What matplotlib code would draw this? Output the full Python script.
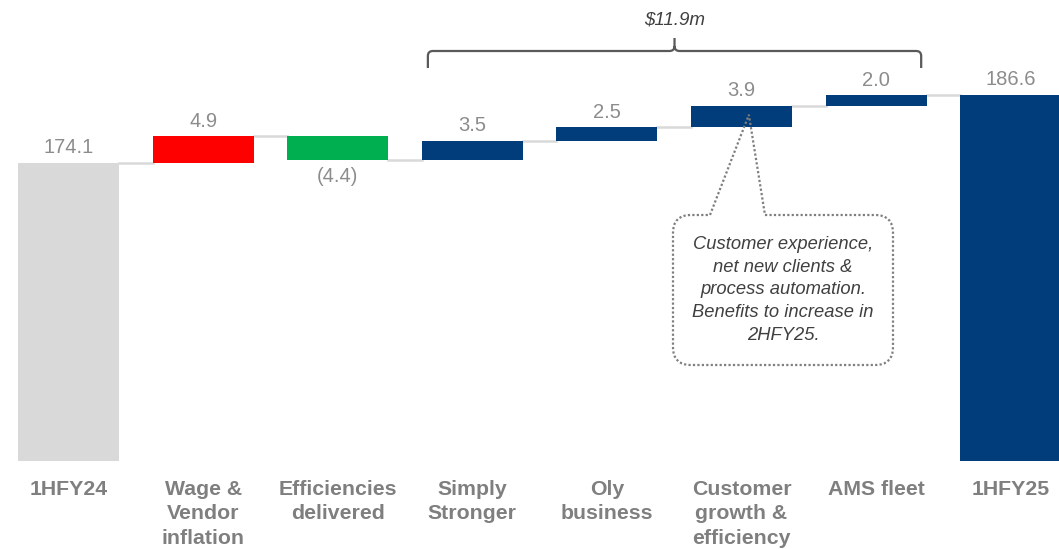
import matplotlib.pyplot as plt
from matplotlib.path import Path
from matplotlib.patches import PathPatch
import numpy as np

plt.rcParams["font.family"] = ["Liberation Sans", "DejaVu Sans"]

# Waterfall data
categories = ["1HFY24", "Wage &\nVendor\ninflation", "Efficiencies\ndelivered",
              "Simply\nStronger", "Oly\nbusiness", "Customer\ngrowth &\nefficiency",
              "AMS fleet", "1HFY25"]
start_total = 174.1
deltas = [4.9, -4.4, 3.5, 2.5, 3.9, 2.0]
end_total = 186.6
delta_colors = ["#ff0000", "#00b050", "#003d7a", "#003d7a", "#003d7a", "#003d7a"]
bracket_label = "$11.9m"
callout_text = ("Customer experience,\nnet new clients &\nprocess automation.\n"
                "Benefits to increase in\n2HFY25.")

W, H = 1059, 549
fig = plt.figure(figsize=(W / 100, H / 100), dpi=100)
ax = fig.add_axes([0, 1 - 460.7 / H, 1, 460.7 / H])
ax.set_xlim(-0.509, 7.359)
ax.set_ylim(119.6, 203.9)
for s in ax.spines.values():
    s.set_visible(False)
ax.set_yticks([])

bw = 0.75
label_grey = "#8c8c8c"
x = np.arange(len(categories))

# totals
ax.bar(x[0], start_total, width=bw, color="#d9d9d9", zorder=2)
ax.bar(x[-1], end_total, width=bw, color="#003d7a", zorder=2)
ax.annotate(f"{start_total:.1f}", (x[0], start_total), xytext=(0, 4),
            textcoords="offset points", ha="center", va="bottom",
            fontsize=14.5, color=label_grey)
ax.annotate(f"{end_total:.1f}", (x[-1], end_total), xytext=(0, 4),
            textcoords="offset points", ha="center", va="bottom",
            fontsize=14.5, color=label_grey)

running = start_total
levels = [start_total]
for i, (d, c) in enumerate(zip(deltas, delta_colors), start=1):
    bottom = running if d > 0 else running + d
    ax.bar(x[i], abs(d), bottom=bottom, width=bw, color=c, zorder=2)
    running += d
    levels.append(running)
    if d > 0:
        ax.annotate(f"{d:.1f}", (x[i], running), xytext=(0, 4),
                    textcoords="offset points", ha="center", va="bottom",
                    fontsize=14.5, color=label_grey)
    else:
        ax.annotate(f"({abs(d):.1f})", (x[i], running), xytext=(0, -5),
                    textcoords="offset points", ha="center", va="top",
                    fontsize=14.5, color=label_grey)

# connectors
for i, lev in enumerate(levels):
    ax.plot([x[i] + bw / 2, x[i + 1] - bw / 2], [lev, lev],
            color="#d9d9d9", lw=1.8, zorder=1)

ax.set_xticks(x)
ax.set_xticklabels(categories, fontsize=15.3, fontweight="bold", color="#7f7f7f",
                   linespacing=1.35)
ax.tick_params(axis="x", length=0, pad=14)


def to_px(xd, yd):
    dx, dy = ax.transData.transform((xd, yd))
    return dx, H - dy


# overlay in pixel coordinates for annotations
ov = fig.add_axes([0, 0, 1, 1])
ov.set_xlim(0, W)
ov.set_ylim(H, 0)
ov.axis("off")
ov.patch.set_alpha(0)

# bracket over the Simply Stronger .. AMS fleet bars
bl, _ = to_px(x[3] - bw / 2 + 0.045, 0)
br, _ = to_px(x[6] + bw / 2 - 0.04, 0)
bm = (bl + br) / 2
yb, yt, ym, r = 51, 68, 38, 5
verts = [(bl, yt), (bl, yb + r), (bl, yb), (bl + r, yb), (bm - r, yb), (bm, yb), (bm, yb - r),
         (bm, ym), (bm, yb - r), (bm, yb), (bm + r, yb), (br - r, yb), (br, yb), (br, yb + r),
         (br, yt)]
codes = [Path.MOVETO, Path.LINETO, Path.CURVE3, Path.CURVE3, Path.LINETO, Path.CURVE3,
         Path.CURVE3, Path.LINETO, Path.MOVETO, Path.CURVE3, Path.CURVE3, Path.LINETO,
         Path.CURVE3, Path.CURVE3, Path.LINETO]
ov.add_patch(PathPatch(Path(verts, codes), fill=False, edgecolor="#595959", lw=1.6))
ov.text(bm, 20, bracket_label, ha="center", va="center", fontsize=13.5,
        style="italic", color="#404040")

# callout box pointing at Customer growth bar
ax_px, ay_px = to_px(x[5] + 0.055, levels[5] - 1.6)
l, rgt, t, b, rr = 673, 893, 215, 365, 18
w1, w2 = 710, 765
cv = [(w2, t), (rgt - rr, t), (rgt, t), (rgt, t + rr), (rgt, b - rr), (rgt, b), (rgt - rr, b),
      (l + rr, b), (l, b), (l, b - rr), (l, t + rr), (l, t), (l + rr, t), (w1, t),
      (ax_px, ay_px), (w2, t)]
cc = [Path.MOVETO, Path.LINETO, Path.CURVE3, Path.CURVE3, Path.LINETO, Path.CURVE3, Path.CURVE3,
      Path.LINETO, Path.CURVE3, Path.CURVE3, Path.LINETO, Path.CURVE3, Path.CURVE3, Path.LINETO,
      Path.LINETO, Path.LINETO]
ov.add_patch(PathPatch(Path(cv, cc), facecolor="none", edgecolor="#7f7f7f", lw=1.6,
                       linestyle=(0, (1, 1))))
ov.text((l + rgt) / 2, (t + b) / 2, callout_text, ha="center", va="center",
        fontsize=13.2, style="italic", color="#404040", linespacing=1.45)

fig.savefig("out.png", dpi=100)
